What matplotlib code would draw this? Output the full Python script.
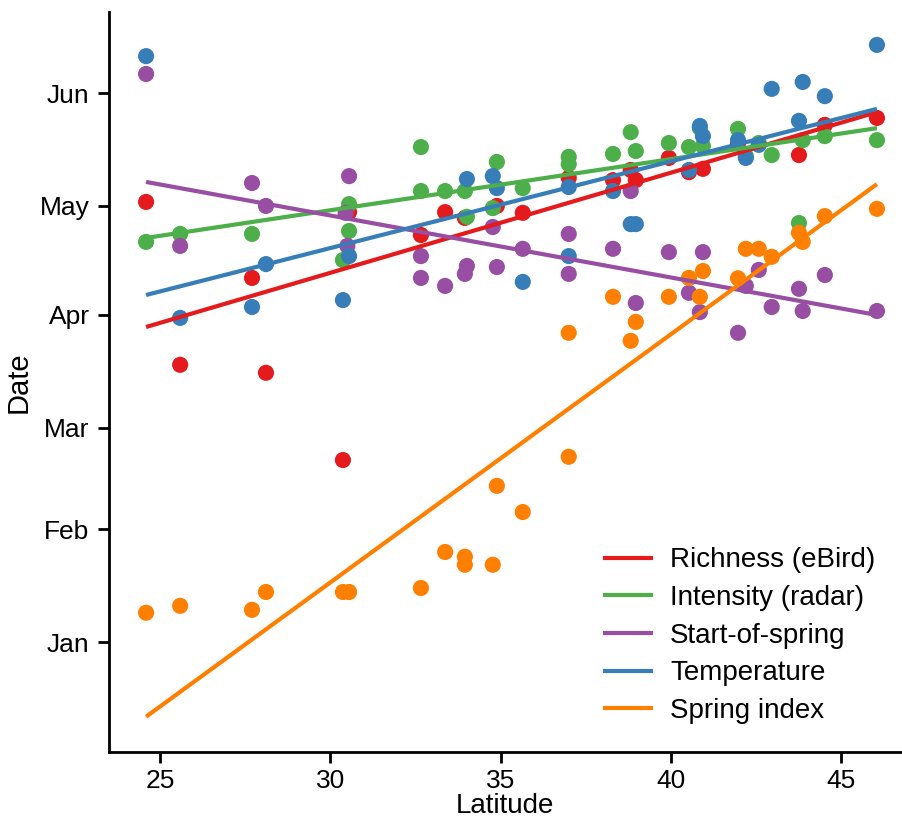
"""Spring arrival date versus latitude."""
import matplotlib
matplotlib.use("Agg")
import matplotlib.pyplot as plt

plt.rcParams["font.family"] = ["Liberation Sans", "DejaVu Sans"]

# latitude / day-of-year values per series
richness_lat = [24.59, 25.59, 27.70, 28.11, 30.37, 30.55, 32.66, 33.37, 33.95,
                34.89, 35.65, 37.00, 38.30, 38.82, 38.97, 39.94, 40.53, 40.94,
                41.97, 43.76, 44.52, 46.05]
richness_day = [122.1, 77.3, 101.2, 75.1, 51.1, 119.3, 113.0, 119.3, 117.7,
                121.0, 119.1, 128.7, 128.1, 130.9, 128.1, 134.2, 130.3, 131.2,
                138.3, 135.0, 143.3, 145.2]

intensity_lat = [24.59, 25.59, 27.70, 30.55, 30.55, 30.37, 32.66, 32.66, 33.37,
                 33.95, 34.01, 34.89, 34.77, 35.65, 37.00, 37.00, 38.30, 38.82,
                 38.97, 39.94, 40.53, 40.85, 40.94, 41.97, 42.20, 42.58, 42.96,
                 43.76, 43.87, 44.52, 46.05]
intensity_day = [111.1, 113.3, 113.3, 121.5, 114.1, 106.1, 137.2, 125.1, 125.1,
                 125.1, 118.0, 133.1, 120.4, 125.9, 134.5, 132.5, 135.3, 141.3,
                 136.1, 138.3, 137.2, 142.4, 137.5, 142.2, 134.7, 138.3, 135.0,
                 116.3, 139.1, 140.2, 139.1]

sos_lat = [24.59, 25.59, 27.70, 28.11, 30.55, 30.45, 30.50, 32.66, 32.66, 33.37,
           33.95, 34.01, 34.89, 34.77, 35.65, 37.00, 37.00, 38.30, 38.97, 38.82,
           39.94, 40.94, 40.53, 40.85, 41.97, 42.20, 42.58, 42.96, 43.76, 43.87,
           44.52, 46.05]
sos_day = [157.3, 110.0, 127.3, 121.0, 129.2, 119.1, 110.0, 107.2, 101.2, 99.0,
           102.3, 104.5, 104.2, 115.2, 109.2, 113.3, 102.3, 109.2, 94.3, 125.1,
           108.3, 108.3, 97.1, 91.8, 86.1, 99.0, 103.4, 93.2, 98.2, 92.1,
           102.0, 92.1]

temp_lat = [24.59, 25.59, 27.70, 28.11, 30.37, 30.55, 34.01, 34.77, 34.89, 35.65,
            37.00, 37.00, 38.30, 38.82, 38.97, 40.53, 40.85, 40.94, 41.97, 42.20,
            42.58, 42.96, 43.76, 43.87, 44.52, 46.05]
temp_day = [162.2, 90.2, 93.2, 105.0, 95.1, 107.2, 128.4, 129.2, 125.9, 100.1,
            126.2, 107.2, 125.1, 116.0, 116.0, 130.9, 143.0, 140.2, 139.1, 134.2,
            137.8, 153.2, 144.4, 155.1, 151.2, 165.3]

spring_lat = [24.59, 25.59, 27.70, 28.11, 30.37, 30.55, 32.66, 33.37, 33.95,
              33.95, 34.77, 34.89, 35.65, 37.00, 37.00, 38.30, 38.97, 38.82,
              39.94, 40.53, 40.85, 40.94, 41.97, 42.20, 42.58, 42.96, 43.76,
              43.87, 44.52, 46.05]
spring_day = [9.1, 11.0, 9.9, 14.8, 14.8, 14.8, 15.9, 25.8, 24.5, 22.3, 22.3,
              44.0, 36.8, 52.0, 86.1, 96.0, 89.1, 83.9, 96.0, 101.2, 96.0, 103.1,
              101.1, 109.2, 109.2, 107.0, 113.6, 111.1, 118.2, 120.2]

# fitted trend lines, day at the two ends of the latitude range
fit_lat = [24.59, 46.05]
richness_fit = [87.7, 146.8]
intensity_fit = [112.2, 142.4]
sos_fit = [127.6, 91.0]
temp_fit = [96.5, 147.7]
spring_fit = [-19.5, 127.0]

month_days = [1, 32, 60, 91, 121, 152]
month_names = ["Jan", "Feb", "Mar", "Apr", "May", "Jun"]

series = [
    ("Richness (eBird)", "#E41A1C", richness_lat, richness_day, richness_fit),
    ("Intensity (radar)", "#4DAF4A", intensity_lat, intensity_day, intensity_fit),
    ("Start-of-spring", "#984EA3", sos_lat, sos_day, sos_fit),
    ("Temperature", "#377EB8", temp_lat, temp_day, temp_fit),
    ("Spring index", "#FF7F00", spring_lat, spring_day, spring_fit),
]

fig = plt.figure(figsize=(9.02, 8.22), dpi=100)
ax = fig.add_axes([0.1208, 0.0852, 0.879, 0.900])

for name, color, lat, day, fit in series:
    ax.scatter(lat, day, s=135, color=color, edgecolors="none", zorder=2)

for name, color, lat, day, fit in series:
    ax.plot(fit_lat, fit, color=color, lw=3, label=name, zorder=3,
            solid_capstyle="butt")

ax.set_xlim(23.5, 46.78)
ax.set_ylim(-29.2, 174.3)
ax.set_xticks([25, 30, 35, 40, 45])
ax.set_yticks(month_days)
ax.set_yticklabels(month_names)

ax.spines["top"].set_visible(False)
ax.spines["right"].set_visible(False)
for side in ["left", "bottom"]:
    ax.spines[side].set_linewidth(2)
ax.tick_params(direction="out", length=8, width=2, labelsize=19)
ax.tick_params(axis="x", pad=4)
ax.tick_params(axis="y", pad=6)

ax.set_xlabel("Latitude", fontsize=20, labelpad=0)
ax.set_ylabel("Date", fontsize=21, labelpad=5)

ax.legend(loc="lower right", frameon=False, fontsize=20, handlelength=1.8,
          handletextpad=0.6, labelspacing=0.42, bbox_to_anchor=(0.998, 0.004))

fig.savefig("out.png", dpi=100)
